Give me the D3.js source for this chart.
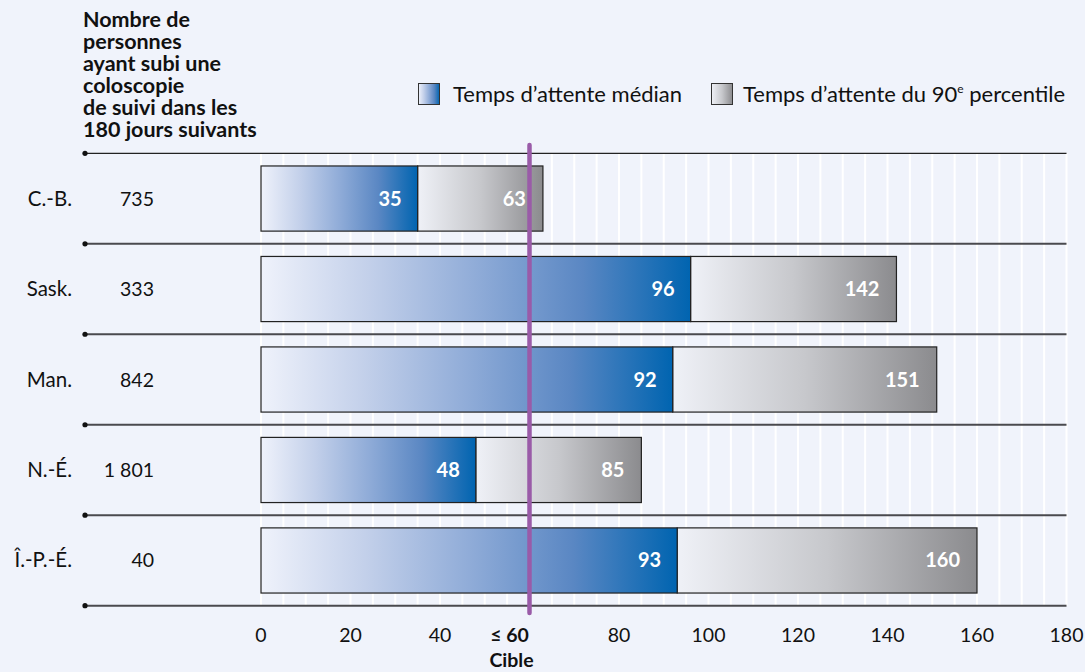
<!DOCTYPE html>
<html>
<head>
<meta charset="utf-8">
<script src="https://cdn.jsdelivr.net/npm/d3@7"></script>
<style>
  html, body { margin: 0; padding: 0; background: #f0f3fb; }
  svg { display: block; font-family: Lato, "Open Sans", sans-serif; }
</style>
</head>
<body>
<svg id="chart" width="1085" height="672"></svg>
<script>
// Provinces, patient counts and wait times (days)
const provinces = ["C.-B.", "Sask.", "Man.", "N.-É.", "Î.-P.-É."];
const patients = ["735", "333", "842", "1 801", "40"];
const medianWait = [35, 96, 92, 48, 93];
const p90Wait = [63, 142, 151, 85, 160];
const xTicks = [0, 20, 40, 60, 80, 100, 120, 140, 160, 180];
const target = 60;
const titleLines = ["Nombre de", "personnes", "ayant subi une", "coloscopie", "de suivi dans les", "180 jours suivants"];

const svg = d3.select("#chart");
const defs = svg.append("defs");

function hGrad(id, stops) {
  const g = defs.append("linearGradient").attr("id", id)
    .attr("x1", "0%").attr("x2", "100%").attr("y1", "0%").attr("y2", "0%");
  stops.forEach(([o, c]) => g.append("stop").attr("offset", o).attr("stop-color", c));
}
hGrad("gradMedian", [["0%", "#eff2fb"], ["25%", "#c3d0ea"], ["50%", "#90acd8"], ["75%", "#5a87c3"], ["100%", "#0064b0"]]);
hGrad("gradP90", [["0%", "#eff1f7"], ["50%", "#c7c8cc"], ["100%", "#8b8b8e"]]);

const x = d3.scaleLinear().domain([0, 180]).range([261, 1066.5]);
const y = d3.scaleBand().domain(provinces).range([153.3, 605.7]).paddingInner(0.28).paddingOuter(0.14);
const rowEdges = d3.range(provinces.length + 1).map(i => 153.3 + i * (605.7 - 153.3) / provinces.length);

// vertical white stripes every 5 days
svg.append("g").selectAll("line").data(d3.range(0, 181, 5)).join("line")
  .attr("x1", d => x(d)).attr("x2", d => x(d))
  .attr("y1", rowEdges[0]).attr("y2", rowEdges[rowEdges.length - 1])
  .attr("stroke", "#ffffff").attr("stroke-width", 2);

// row separators with dot at left end
const sep = svg.append("g");
rowEdges.forEach((yy, i) => {
  sep.append("line").attr("x1", 85).attr("x2", x(180)).attr("y1", yy).attr("y2", yy)
    .attr("stroke", i === 0 ? "#222" : "#4a4a4e").attr("stroke-width", i === 0 ? 1.3 : 2);
  sep.append("circle").attr("cx", 85).attr("cy", yy).attr("r", 2.6).attr("fill", "#111");
});

// 90th percentile bars, then median bars on top
const bars = svg.append("g");
bars.selectAll("rect.p90").data(provinces).join("rect").attr("class", "p90")
  .attr("x", (d, i) => x(medianWait[i])).attr("y", d => y(d))
  .attr("width", (d, i) => x(p90Wait[i]) - x(medianWait[i])).attr("height", y.bandwidth())
  .attr("fill", "url(#gradP90)").attr("stroke", "#222").attr("stroke-width", 1.2);
bars.selectAll("rect.med").data(provinces).join("rect").attr("class", "med")
  .attr("x", x(0)).attr("y", d => y(d))
  .attr("width", (d, i) => x(medianWait[i]) - x(0)).attr("height", y.bandwidth())
  .attr("fill", "url(#gradMedian)").attr("stroke", "#222").attr("stroke-width", 1.2);

// value labels
const lab = svg.append("g").attr("font-weight", "bold").attr("font-size", 20).attr("fill", "#fff")
  .attr("text-anchor", "end");
provinces.forEach((p, i) => {
  const cy = y(p) + y.bandwidth() / 2 + 7;
  lab.append("text").attr("x", x(medianWait[i]) - 16).attr("y", cy).text(medianWait[i]);
  lab.append("text").attr("x", x(p90Wait[i]) - 17).attr("y", cy).text(p90Wait[i]);
});

// target line
svg.append("line").attr("x1", x(target)).attr("x2", x(target)).attr("y1", 145).attr("y2", 613)
  .attr("stroke", "#9a5ba8").attr("stroke-width", 4.5).attr("stroke-linecap", "round");

// row labels and patient counts
const rows = svg.append("g").attr("font-size", 20.5).attr("fill", "#111").attr("text-anchor", "end");
provinces.forEach((p, i) => {
  const cy = y(p) + y.bandwidth() / 2 + 7;
  rows.append("text").attr("x", 72).attr("y", cy).text(p);
  rows.append("text").attr("x", 154).attr("y", cy).attr("font-size", 19.5).text(patients[i]);
});

// column title
const title = svg.append("text").attr("font-size", 21.5).attr("font-weight", "bold").attr("fill", "#111");
titleLines.forEach((t, i) => {
  title.append("tspan").attr("x", 83).attr("y", 27 + i * 21.9).text(t);
});

// x axis tick labels
const ax = svg.append("g").attr("font-size", 19.5).attr("fill", "#111").attr("text-anchor", "middle");
xTicks.forEach(t => {
  if (t === target) {
    ax.append("text").attr("x", x(t) - 20).attr("y", 642).attr("font-weight", "bold").text("≤ " + t);
    ax.append("text").attr("x", x(t) - 18).attr("y", 667).attr("font-weight", "bold").text("Cible");
  } else {
    ax.append("text").attr("x", x(t)).attr("y", 642).text(t);
  }
});

// legend
const leg = svg.append("g").attr("font-size", 22).attr("fill", "#111");
leg.append("rect").attr("x", 418.5).attr("y", 83.5).attr("width", 21).attr("height", 21)
  .attr("fill", "url(#gradMedian)").attr("stroke", "#333");
leg.append("text").attr("x", 453).attr("y", 102).text("Temps d’attente médian");
leg.append("rect").attr("x", 711.5).attr("y", 83.5).attr("width", 21).attr("height", 21)
  .attr("fill", "url(#gradP90)").attr("stroke", "#333");
const l2 = leg.append("text").attr("x", 743).attr("y", 102);
l2.append("tspan").text("Temps d’attente du 90");
l2.append("tspan").attr("font-size", 12).attr("dy", -9).text("e");
l2.append("tspan").attr("dy", 9).text(" percentile");
</script>
</body>
</html>
